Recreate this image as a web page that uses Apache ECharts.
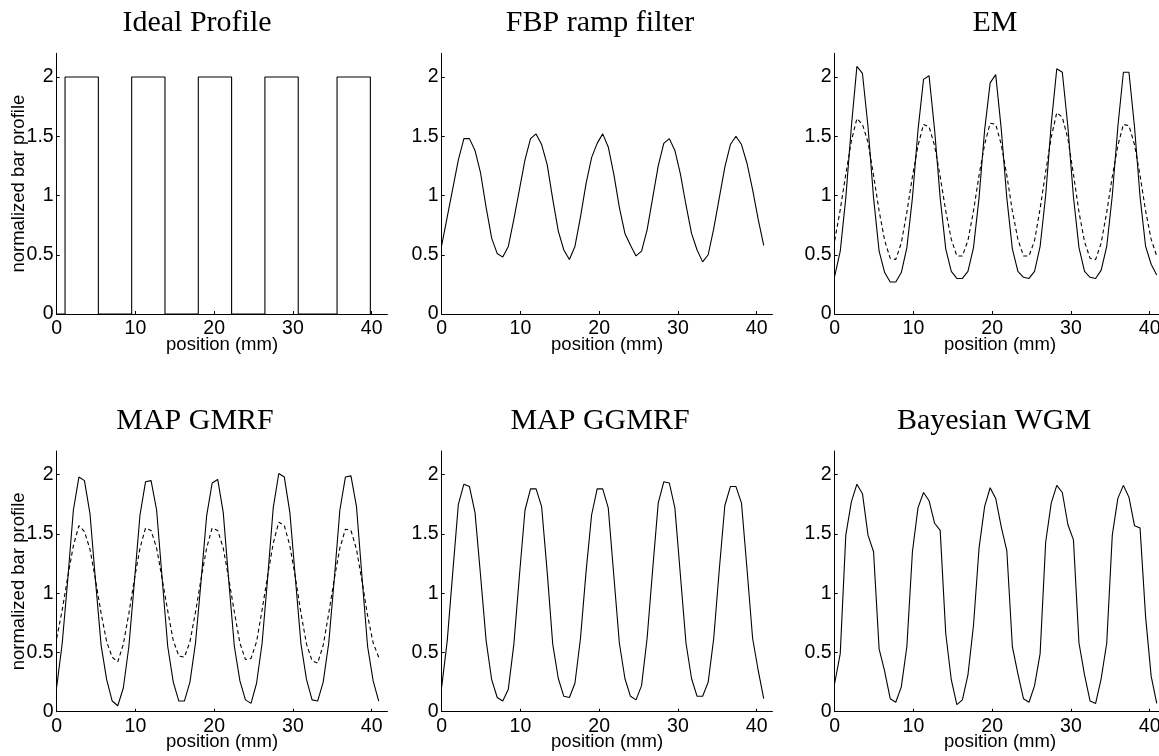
<!DOCTYPE html>
<html><head><meta charset="utf-8">
<script src="https://cdn.jsdelivr.net/npm/echarts@6/dist/echarts.min.js"></script>
<style>html,body{margin:0;padding:0;background:#fff}#c{width:1159px;height:756px}</style>
</head><body><div id="c"></div>
<script>
// ---- data ----
const positions = [0, 0.705, 1.41, 2.115, 2.82, 3.525, 4.23, 4.935, 5.64, 6.345, 7.05, 7.755, 8.46, 9.165, 9.87, 10.575, 11.28, 11.985, 12.69, 13.395, 14.1, 14.805, 15.51, 16.215, 16.92, 17.625, 18.33, 19.035, 19.74, 20.445, 21.15, 21.855, 22.56, 23.265, 23.97, 24.675, 25.38, 26.085, 26.79, 27.495, 28.2, 28.905, 29.61, 30.315, 31.02, 31.725, 32.43, 33.135, 33.84, 34.545, 35.25, 35.955, 36.66, 37.365, 38.07, 38.775, 39.48, 40.185, 40.89];
const idealEdges = [1.06, 5.29, 9.52, 13.75, 17.98, 22.21, 26.44, 30.67, 35.6, 39.83];
const idealLevel = 2;
const fbp = [0.58,0.82,1.06,1.30,1.48,1.48,1.38,1.19,0.90,0.64,0.51,0.48,0.57,0.80,1.05,1.30,1.48,1.52,1.43,1.26,0.97,0.70,0.54,0.46,0.57,0.82,1.10,1.32,1.44,1.52,1.41,1.18,0.90,0.68,0.58,0.49,0.53,0.71,0.98,1.25,1.44,1.48,1.38,1.18,0.92,0.68,0.54,0.44,0.50,0.72,0.98,1.24,1.43,1.50,1.43,1.27,1.05,0.80,0.58];
const emSolid = [0.32,0.53,0.98,1.58,2.09,2.03,1.58,0.98,0.53,0.35,0.27,0.27,0.35,0.56,0.98,1.55,1.98,2.01,1.55,0.98,0.55,0.36,0.30,0.30,0.36,0.56,0.98,1.55,1.95,2.02,1.56,0.98,0.55,0.36,0.31,0.30,0.36,0.57,1.00,1.60,2.07,2.04,1.58,0.99,0.56,0.36,0.31,0.30,0.37,0.57,1.00,1.58,2.04,2.04,1.58,0.99,0.57,0.42,0.33];
const emDashed = [0.62,0.88,1.18,1.46,1.65,1.60,1.45,1.17,0.87,0.62,0.47,0.46,0.60,0.86,1.16,1.42,1.60,1.58,1.42,1.16,0.87,0.63,0.49,0.49,0.62,0.87,1.17,1.43,1.61,1.60,1.43,1.17,0.87,0.63,0.49,0.49,0.62,0.89,1.20,1.49,1.70,1.66,1.48,1.18,0.86,0.61,0.47,0.46,0.60,0.86,1.16,1.42,1.60,1.59,1.43,1.17,0.87,0.63,0.49];
const gmrfSolid = [0.21,0.58,1.12,1.70,1.98,1.95,1.67,1.10,0.56,0.27,0.09,0.05,0.20,0.55,1.10,1.66,1.94,1.95,1.70,1.12,0.55,0.25,0.09,0.09,0.25,0.58,1.10,1.65,1.93,1.96,1.68,1.10,0.55,0.26,0.10,0.07,0.24,0.58,1.13,1.72,2.01,1.98,1.68,1.12,0.57,0.27,0.10,0.09,0.25,0.58,1.12,1.70,1.98,1.99,1.73,1.13,0.55,0.26,0.09];
const gmrfDashed = [0.62,0.86,1.14,1.40,1.57,1.52,1.37,1.11,0.83,0.59,0.46,0.42,0.57,0.83,1.12,1.38,1.55,1.53,1.38,1.12,0.85,0.60,0.47,0.46,0.59,0.84,1.12,1.38,1.55,1.53,1.38,1.12,0.84,0.58,0.44,0.45,0.59,0.86,1.15,1.42,1.60,1.57,1.40,1.13,0.83,0.57,0.43,0.41,0.56,0.83,1.12,1.38,1.54,1.53,1.37,1.10,0.81,0.58,0.46];
const ggmrf = [0.21,0.60,1.18,1.75,1.92,1.90,1.68,1.15,0.60,0.27,0.12,0.09,0.19,0.57,1.15,1.70,1.88,1.88,1.73,1.18,0.57,0.28,0.13,0.12,0.24,0.62,1.18,1.66,1.88,1.88,1.72,1.15,0.58,0.28,0.13,0.10,0.22,0.62,1.20,1.76,1.94,1.93,1.72,1.15,0.58,0.28,0.13,0.13,0.25,0.62,1.20,1.74,1.90,1.90,1.76,1.20,0.62,0.35,0.11];
const wgm = [0.24,0.49,1.49,1.77,1.92,1.84,1.49,1.35,0.53,0.34,0.11,0.08,0.21,0.55,1.35,1.72,1.85,1.78,1.59,1.53,0.66,0.27,0.06,0.10,0.31,0.73,1.38,1.73,1.89,1.80,1.56,1.36,0.55,0.32,0.11,0.08,0.22,0.49,1.43,1.76,1.91,1.85,1.58,1.45,0.58,0.31,0.09,0.07,0.28,0.58,1.49,1.80,1.91,1.81,1.57,1.55,0.80,0.30,0.07];
const titles = ['Ideal Profile', 'FBP ramp filter', 'EM', 'MAP GMRF', 'MAP GGMRF', 'Bayesian WGM'];
const xTicks = [0, 10, 20, 30, 40];
const yTicks = [0, 0.5, 1, 1.5, 2];
const xLabel = 'position (mm)';
const yLabel = 'normalized bar profile';

// ---- build ----
function pairs(ys) { return positions.map((x, i) => [x, ys[i]]); }
function idealPoints() {
  const pts = [[0, 0]];
  for (let i = 0; i < idealEdges.length; i += 2) {
    pts.push([idealEdges[i], 0], [idealEdges[i], idealLevel], [idealEdges[i + 1], idealLevel], [idealEdges[i + 1], 0]);
  }
  return pts;
}

const panelLines = [
  [{d: idealPoints(), dash: false}],
  [{d: pairs(fbp), dash: false}],
  [{d: pairs(emDashed), dash: true}, {d: pairs(emSolid), dash: false}],
  [{d: pairs(gmrfDashed), dash: true}, {d: pairs(gmrfSolid), dash: false}],
  [{d: pairs(ggmrf), dash: false}],
  [{d: pairs(wgm), dash: false}]
];

const colLeft = [56.7, 441.7, 834.7];
const rowTop = [53.3, 451];
const titleX = [[197, 600, 995], [195, 600, 994]];
const titleTop = [8, 406];
const gw = 330.75, gh = 260.7;
const FS = 19.5;
const NFS = 18.5;
const sans = 'Liberation Sans, Arial, sans-serif';

const grid = [], xAxis = [], yAxis = [], series = [], title = [];
for (let p = 0; p < 6; p++) {
  const r = Math.floor(p / 3), c = p % 3;
  grid.push({left: colLeft[c], top: rowTop[r], width: gw, height: gh, outerBoundsMode: 'none', containLabel: false});
  title.push({text: titles[p], left: titleX[r][c], top: titleTop[r], textAlign: 'center', padding: 0,
    textStyle: {fontFamily: 'Liberation Serif, Times New Roman, serif', fontSize: 30, fontWeight: 'normal', color: '#000'}});
  xAxis.push({type: 'value', gridIndex: p, min: 0, max: 42,
    name: xLabel, nameLocation: 'middle', nameGap: 21, nameMoveOverlap: false,
    nameTextStyle: {fontFamily: sans, fontSize: NFS, color: '#000'},
    axisLine: {show: true, onZero: false, lineStyle: {color: '#000', width: 1}},
    axisTick: {show: true, inside: true, length: 3, customValues: xTicks, lineStyle: {color: '#000'}},
    axisLabel: {customValues: xTicks, margin: 5, fontFamily: sans, fontSize: FS, color: '#000'},
    splitLine: {show: false}});
  yAxis.push({type: 'value', gridIndex: p, min: 0, max: 2.2,
    name: c === 0 ? yLabel : '', nameLocation: 'middle', nameGap: 28, nameMoveOverlap: false,
    nameTextStyle: {fontFamily: sans, fontSize: NFS, color: '#000'},
    axisLine: {show: true, onZero: false, lineStyle: {color: '#000', width: 1}},
    axisTick: {show: true, inside: true, length: 3, customValues: yTicks, lineStyle: {color: '#000'}},
    axisLabel: {customValues: yTicks, margin: 3, fontFamily: sans, fontSize: FS, color: '#000'},
    splitLine: {show: false}});
  panelLines[p].forEach(l => {
    series.push({type: 'line', xAxisIndex: p, yAxisIndex: p, data: l.d, showSymbol: false, symbol: 'none',
      lineStyle: {color: '#000', width: 1.1, type: l.dash ? [4, 3] : 'solid'}, z: l.dash ? 2 : 3});
  });
}

const chart = echarts.init(document.getElementById('c'), null, {renderer: 'canvas'});
chart.setOption({animation: false, backgroundColor: '#fff', title, grid, xAxis, yAxis, series});
</script></body></html>
